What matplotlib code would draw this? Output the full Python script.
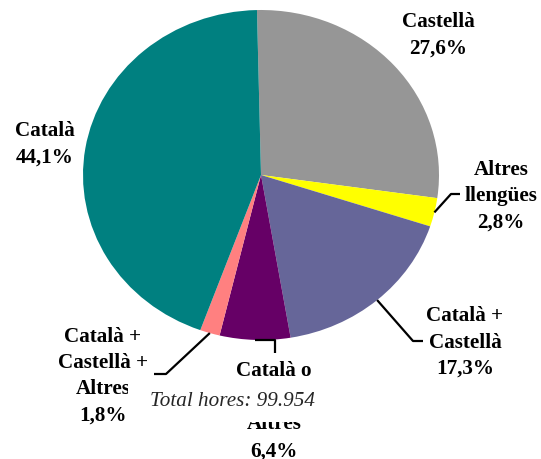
import numpy as np
import matplotlib
matplotlib.use("Agg")
import matplotlib.pyplot as plt

# ---- data ----
categories = ["Castellà", "Altres llengües", "Català + Castellà", "Català o Altres",
              "Català + Castellà + Altres", "Català"]
label_lines = [["Castellà"], ["Altres", "llengües"], ["Català +", "Castellà"],
               ["Català o", "", "Altres"], ["Català +", "Castellà +", "Altres"], ["Català"]]
values = [27.6, 2.8, 17.3, 6.4, 1.8, 44.1]
pct_labels = ["27,6%", "2,8%", "17,3%", "6,4%", "1,8%", "44,1%"]
colors = ["#969696", "#FFFF00", "#666699", "#660066", "#FF8080", "#008080"]
total_text = "Total hores: 99.954"

W, H = 541, 459
fig = plt.figure(figsize=(W / 100, H / 100), dpi=100)

# pie axes (slightly elliptical like the reference)
cx, cy, rx, ry = 261, 175, 178, 165
ax = fig.add_axes([(cx - rx) / W, 1 - (cy + ry) / H, 2 * rx / W, 2 * ry / H])
startangle = 91.3
wedges, _ = ax.pie(values, colors=colors, startangle=startangle, counterclock=False,
                   radius=1, wedgeprops=dict(linewidth=0))
ax.set_aspect("auto")
ax.set_xlim(-1, 1)
ax.set_ylim(-1, 1)
ax.axis("off")

# overlay in pixel coordinates
ov = fig.add_axes([0, 0, 1, 1])
ov.set_xlim(0, W)
ov.set_ylim(H, 0)
ov.axis("off")

def to_px(x, y):
    d = ax.transData.transform((x, y))
    return ov.transData.inverted().transform(d)

font = dict(family=["Liberation Serif", "DejaVu Serif"], fontweight="bold", fontsize=15.2)

# label layout: (center x, first baseline y, line step)
layout = [
    (438, 27, 26.5),
    (501, 175, 26.5),
    (465, 321, 26.5),
    (274, 376, 26.7),
    (103, 342, 26.2),
    (45, 136, 27),
]
for lines, pct, (lx, ly, step) in zip(label_lines, pct_labels, layout):
    allines = lines + [pct]
    for i, t in enumerate(allines):
        if t:
            ov.text(lx, ly + i * step, t, ha="center", va="baseline", zorder=5, **font)

# leader lines: start at wedge middle on the rim
cum = np.cumsum([0] + values)
mids = [startangle - 360 * (cum[i] + values[i] / 2) / 100 for i in range(len(values))]
elbows = {
    1: [(451, 194), (460, 194)],
    2: [(413, 341), (423, 341)],
    3: [(275, 341), (275, 353)],
    4: [(166, 374), (154, 374)],
}
for i, pts in elbows.items():
    a = np.deg2rad(mids[i])
    sx, sy = to_px(np.cos(a), np.sin(a))
    xs = [sx] + [p[0] for p in pts]
    ys = [sy] + [p[1] for p in pts]
    if i == 3:
        xs[1:] = [xs[1], xs[2]]
        ys[1] = sy
        ys = [sy, sy, pts[1][1]]
    ov.plot(xs, ys, color="black", lw=1.6, solid_capstyle="butt", zorder=4)

# total box (white background covering part of the labels)
ov.add_patch(plt.Rectangle((128, 377), 209, 45, facecolor="white", edgecolor="none", zorder=8))
ov.text(232.5, 406, total_text, ha="center", va="baseline", fontsize=15.2,
        family=["Liberation Serif", "DejaVu Serif"], fontstyle="italic", color="#262626", zorder=9)

fig.savefig("out.png", dpi=100)
